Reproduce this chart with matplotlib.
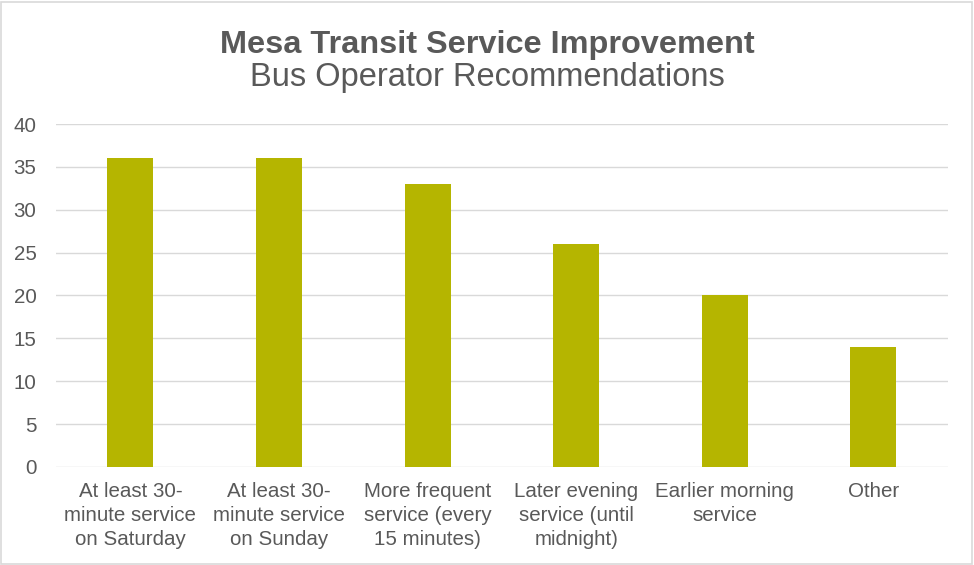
import matplotlib.pyplot as plt
import numpy as np

plt.rcParams['font.family'] = ['Liberation Sans', 'DejaVu Sans']

categories = ["At least 30-\nminute service\non Saturday",
              "At least 30-\nminute service\non Sunday",
              "More frequent\nservice (every\n15 minutes)",
              "Later evening\nservice (until\nmidnight)",
              "Earlier morning\nservice",
              "Other"]
counts = [36, 36, 33, 26, 20, 14]
yticks = [0, 5, 10, 15, 20, 25, 30, 35, 40]

txt = '#595959'
bar_col = '#B5B500'

fig = plt.figure(figsize=(9.74, 5.65), dpi=100)
ax = fig.add_axes([0.0575, 0.1735, 0.9155, 0.607])

x = np.arange(len(categories))
ax.bar(x, counts, width=0.31, color=bar_col, zorder=3)

ax.set_xlim(-0.5, len(categories) - 0.5)
ax.set_ylim(0, 40)
ax.set_yticks(yticks)
ax.set_xticks(x)
ax.set_xticklabels(categories, linespacing=1.32)
ax.tick_params(axis='both', length=0, labelsize=14.8, colors=txt)
ax.tick_params(axis='x', pad=11)
ax.tick_params(axis='y', pad=14)
ax.grid(axis='y', color='#D9D9D9', linewidth=1, zorder=0)
for s in ax.spines.values():
    s.set_visible(False)

fig.text(0.5, 0.921, "Mesa Transit Service Improvement", ha='center', va='center',
         fontsize=23.4, fontweight='bold', color=txt)
fig.text(0.5, 0.862, "Bus Operator Recommendations", ha='center', va='center',
         fontsize=23.5, color=txt)

# thin frame round the whole chart
fig.patches.append(plt.Rectangle((0.001, 0.002), 0.997, 0.995, transform=fig.transFigure,
                                 fill=False, edgecolor='#D9D9D9', linewidth=1.2))

fig.savefig('out.png', dpi=100)
